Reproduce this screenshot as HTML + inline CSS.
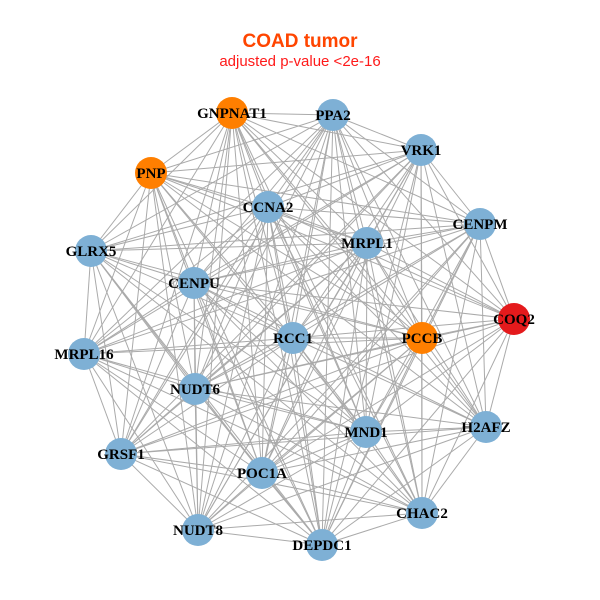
<!DOCTYPE html>
<html><head><meta charset="utf-8"><style>
html,body{margin:0;padding:0;background:#fff;width:600px;height:600px;overflow:hidden}
text{font-family:"Liberation Serif",serif;font-weight:bold;font-size:15px;fill:#000}
</style></head><body>
<svg id="s" width="600" height="600" xmlns="http://www.w3.org/2000/svg">
<rect width="600" height="600" fill="#fff"/>
<text x="300" y="47" text-anchor="middle" style="font-family:'Liberation Sans',sans-serif;font-size:19px;fill:#ff4500;font-weight:bold">COAD tumor</text>
<text x="300" y="66" text-anchor="middle" style="font-family:'Liberation Sans',sans-serif;font-size:15px;fill:#ff1a1a;font-weight:normal">adjusted p-value &lt;2e-16</text>
<g id="e" stroke="#aaaaaa" stroke-width="1"></g>
<g id="n"></g>
</svg>
<script>
var N=[["GNPNAT1",232,113,"#ff7f00"],["PPA2",333,115],["VRK1",421,150],["PNP",151,173,"#ff7f00"],["CCNA2",268,207],["CENPM",480,224],["MRPL1",367,243],["GLRX5",91,251],["CENPU",194,283],["COQ2",514,319,"#e41a1c"],["RCC1",293,338],["PCCB",422,338,"#ff7f00"],["MRPL16",84,354],["NUDT6",195,389],["H2AFZ",486,427],["MND1",366,432],["GRSF1",121,454],["POC1A",262,473],["CHAC2",422,513],["NUDT8",198,530],["DEPDC1",322,545]];
var ns="http://www.w3.org/2000/svg",e=document.getElementById("e"),g=document.getElementById("n");
var skip={"7-9":1,"12-9":1,"16-5":1,"19-9":1,"12-14":1,"7-14":1,"3-18":1};
for(var i=0;i<N.length;i++)for(var j=i+1;j<N.length;j++){if(skip[i+"-"+j]||skip[j+"-"+i])continue;
var l=document.createElementNS(ns,"line");l.setAttribute("x1",N[i][1]);l.setAttribute("y1",N[i][2]);l.setAttribute("x2",N[j][1]);l.setAttribute("y2",N[j][2]);e.appendChild(l);}
N.forEach(function(d){var c=document.createElementNS(ns,"circle");c.setAttribute("cx",d[1]);c.setAttribute("cy",d[2]);c.setAttribute("r",16);c.setAttribute("fill",d[3]||"#7eb0d5");g.appendChild(c);});
N.forEach(function(d){var t=document.createElementNS(ns,"text");t.setAttribute("x",d[1]);t.setAttribute("y",d[2]+5);t.setAttribute("text-anchor","middle");t.textContent=d[0];g.appendChild(t);});
</script>
</body></html>
